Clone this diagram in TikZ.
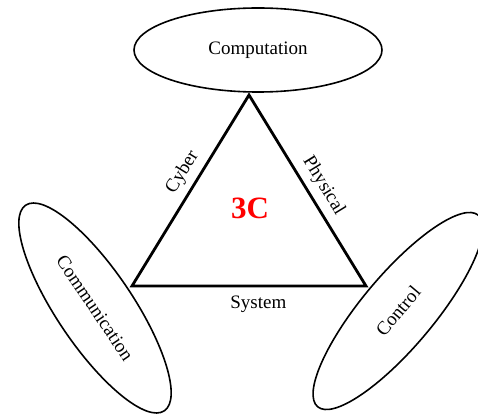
\documentclass[tikz,border=0pt]{standalone}
\usepackage{fontspec}
\setmainfont{Liberation Serif}
\usetikzlibrary{shapes.geometric}
\begin{document}
\begin{tikzpicture}[x=1pt,y=1pt,
  oval/.style={draw, ellipse, line width=1.6pt, inner sep=0pt, font=\fontsize{19}{21}\selectfont},
  edge/.style={line width=2.8pt, line join=miter},
  lbl/.style={font=\fontsize{19}{21}\selectfont, inner sep=6pt}]
\useasboundingbox (0,0) rectangle (478,415);
\coordinate (A) at (249,320);
\coordinate (B) at (132,129);
\coordinate (C) at (366,129);
\node[oval, minimum width=248pt, minimum height=84pt] (comp) at (258,365) {Computation};
\node[oval, minimum width=248pt, minimum height=76pt, rotate=-56] (comm) at (95,107) {Communication};
\node[oval, minimum width=250pt, minimum height=72pt, rotate=50] (ctrl) at (398,104) {Control};
\draw[edge] (B) -- node[lbl, sloped, above, pos=0.55] (cyb) {Cyber} (A)
  -- node[lbl, sloped, above, pos=0.52] (phy) {Physical} (C)
  -- node[lbl, below, pos=0.46, inner sep=9pt] (sys) {System} (B) -- cycle;
\node[text=red, font=\fontsize{31}{33}\selectfont\bfseries] (tc) at (250,207) {3C};
\end{tikzpicture}
\end{document}
